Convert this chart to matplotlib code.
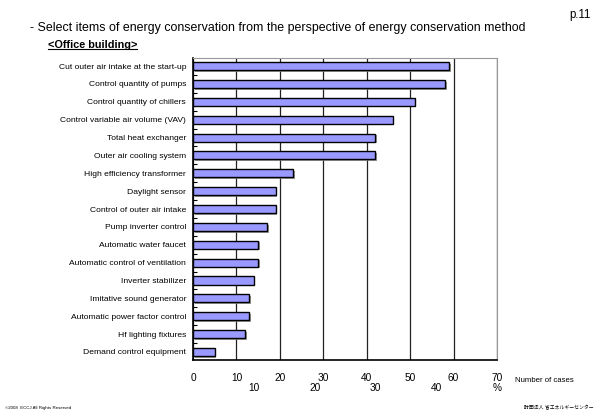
import matplotlib.pyplot as plt
import matplotlib.patheffects as pe
import numpy as np

plt.rcParams['font.family'] = ['Liberation Sans', 'Noto Sans CJK JP', 'DejaVu Sans']

items = [
    "Cut outer air intake at the start-up",
    "Control quantity of pumps",
    "Control quantity of chillers",
    "Control variable air volume (VAV)",
    "Total heat exchanger",
    "Outer air cooling system",
    "High efficiency transformer",
    "Daylight sensor",
    "Control of outer air intake",
    "Pump inverter control",
    "Automatic water faucet",
    "Automatic control of ventilation",
    "Inverter stabilizer",
    "Imitative sound generator",
    "Automatic power factor control",
    "Hf lighting fixtures",
    "Demand control equipment",
]
cases = [59, 58, 51, 46, 42, 42, 23, 19, 19, 17, 15, 15, 14, 13, 13, 12, 5]

case_ticks = [0, 10, 20, 30, 40, 50, 60, 70]
pct_ticks = [10, 20, 30, 40]
total_cases = 140  # cases corresponding to 100 %

fig = plt.figure(figsize=(6, 4.15), dpi=100)
ax = fig.add_axes([0.3217, 0.1325, 0.5067, 0.7277])

y = np.arange(len(items))
bars = ax.barh(y, cases, height=0.45, color="#9999ff", edgecolor="black",
               linewidth=1.0, zorder=3)
for b in bars:
    b.set_path_effects([pe.SimplePatchShadow(offset=(1.2, -1.2), shadow_rgbFace="#808080", alpha=0.8),
                        pe.Normal()])

ax.set_xlim(0, 70)
ax.set_ylim(len(items) - 0.55, -0.45)
ax.set_yticks(y)
ax.set_yticklabels(items, fontsize=6.1)
ax.set_yticks(y[:-1] + 0.5, minor=True)
ax.tick_params(axis="y", which="major", length=0, pad=5)
ax.tick_params(axis="y", which="minor", length=3, direction="in", width=0.8)

ax.set_xticks(case_ticks)
ax.set_xticklabels([str(t) for t in case_ticks], fontsize=7.3)
ax.tick_params(axis="x", length=0, pad=9)
ax.grid(axis="x", color="#222222", linewidth=0.9, zorder=0)

for s in ["top", "right"]:
    ax.spines[s].set_color("#999999")
for s in ["left", "bottom"]:
    ax.spines[s].set_color("black")
    ax.spines[s].set_linewidth(1.2)

trans = ax.get_xaxis_transform()
for p in pct_ticks:
    ax.text(p * total_cases / 100, -0.094, str(p), transform=trans, ha="center", va="center", fontsize=7.3)
ax.text(70, -0.094, "%", transform=trans, ha="center", va="center", fontsize=7.3)
fig.text(0.858, 0.083, "Number of cases", fontsize=5.6, ha="left", va="center")

fig.text(0.05, 0.932, "- Select items of energy conservation from the perspective of energy conservation method",
         fontsize=8.9, ha="left", va="center")
t = fig.text(0.08, 0.892, "<Office building>", fontsize=7.8, fontweight="bold", ha="left", va="center")
fig.text(0.948, 0.965, "p.11", fontsize=8.3, ha="left", va="center")
fig.text(0.008, 0.017, "©2008  ECCJ All Rights Reserved", fontsize=3.2, ha="left", va="center")
fig.text(0.99, 0.017, "財団法人 省エネルギーセンター", fontsize=3.5, ha="right", va="center")

# underline for the subtitle
fig.canvas.draw()
bb = t.get_window_extent().transformed(fig.transFigure.inverted())
fig.add_artist(plt.Line2D([bb.x0, bb.x1], [bb.y0 + 0.002, bb.y0 + 0.002], color="black", linewidth=0.8,
                          transform=fig.transFigure))

fig.savefig("out.png", dpi=100)
